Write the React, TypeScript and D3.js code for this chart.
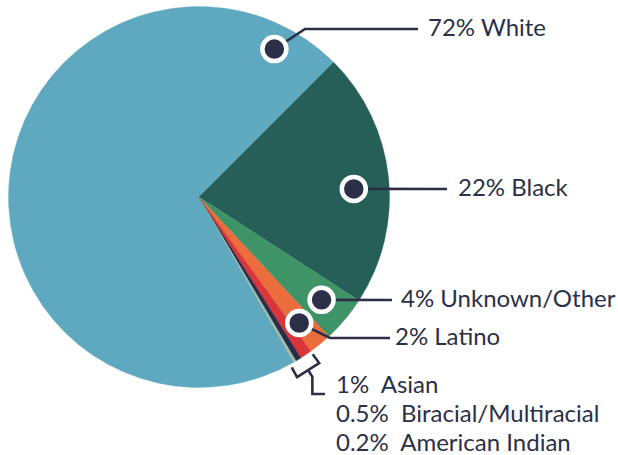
import * as d3 from "d3";

const categories = [
  "White",
  "Black",
  "Unknown/Other",
  "Latino",
  "Asian",
  "Biracial/Multiracial",
  "American Indian",
];
const percents = [72, 22, 4, 2, 1, 0.5, 0.2];
const sliceColors = [
  "#5ea9c0",
  "#265f57",
  "#3f9467",
  "#eb6d3c",
  "#d9353a",
  "#282e48",
  "#a3b9a6",
];

const W = 618;
const H = 455;
const cx = 199;
const cy = 197;
const R = 190.5;
const ink = "#2b3048";
const font = "Lato, 'Open Sans', sans-serif";
const fontSize = 24;

const deg = Math.PI / 180;

// leader line layout for the four labelled slices (marker angle, marker radius, bend, end, text x)
const callouts = [
  { angle: 27, r: 166, bend: [305, 29], end: [418, 29], tx: 428 },
  { angle: 87, r: 155, bend: null, end: [447, 189], tx: 458 },
  { angle: 130, r: 160, bend: null, end: [392, 300], tx: 401 },
  { angle: 141.5, r: 161, bend: [330, 338], end: [390, 338], tx: 395 },
];

const polar = (a: number, r: number): [number, number] => [
  cx + r * Math.sin(a),
  cy - r * Math.cos(a),
];

export default function App() {
  const total = d3.sum(percents);
  const whiteSpan = (percents[0] / total) * 2 * Math.PI;
  const start = Math.PI / 4 - whiteSpan;

  const arcs = d3
    .pie<number>()
    .sort(null)
    .value((d) => d)
    .startAngle(start)
    .endAngle(start + 2 * Math.PI)(percents);

  const arc = d3.arc<d3.PieArcDatum<number>>().innerRadius(0).outerRadius(R);

  // bracket over the three smallest slices
  const a1 = arcs[4].startAngle;
  const a2 = arcs[6].endAngle + 1.3 * deg;
  const t1 = polar(a1, 194);
  const b1 = polar(a1, 205);
  const t2 = polar(a2, 194);
  const b2 = polar(a2, 205);
  const mid: [number, number] = [(b1[0] + b2[0]) / 2, (b1[1] + b2[1]) / 2];
  const am = (a1 + a2) / 2;
  const s1: [number, number] = [mid[0] + 8 * Math.sin(am), mid[1] - 8 * Math.cos(am)];
  const stemY = 394;
  const bracketPath = d3.path();
  bracketPath.moveTo(t1[0], t1[1]);
  bracketPath.lineTo(b1[0], b1[1]);
  bracketPath.lineTo(b2[0], b2[1]);
  bracketPath.lineTo(t2[0], t2[1]);
  bracketPath.moveTo(mid[0], mid[1]);
  bracketPath.lineTo(s1[0], s1[1]);
  bracketPath.lineTo(s1[0], stemY);
  bracketPath.lineTo(325, stemY);

  const smallRows = [4, 5, 6];
  const rowY = [392.7, 421.7, 451.2];

  return (
    <svg
      width={W}
      height={H}
      style={{ position: "absolute", left: 0, top: 0, background: "#fff" }}
    >
      <g transform={`translate(${cx},${cy})`}>
        {arcs.map((a, i) => (
          <path
            key={categories[i]}
            d={arc(a) ?? ""}
            fill={sliceColors[i]}
            stroke={sliceColors[i]}
            strokeWidth={0.4}
          />
        ))}
      </g>

      {callouts.map((c, i) => {
        const m = polar(c.angle * deg, c.r);
        const pts = [m, ...(c.bend ? [c.bend] : []), c.end] as [number, number][];
        const line = d3.line()(pts) ?? "";
        return (
          <g key={categories[i]}>
            <path d={line} fill="none" stroke={ink} strokeWidth={2.6} />
            <circle cx={m[0]} cy={m[1]} r={12} fill={ink} stroke="#fff" strokeWidth={4.5} />
            <text
              x={c.tx}
              y={c.end[1] + 6.5}
              fontFamily={font}
              fontSize={fontSize}
              fill={ink}
            >
              {`${percents[i]}% ${categories[i]}`}
            </text>
          </g>
        );
      })}

      <path d={bracketPath.toString()} fill="none" stroke={ink} strokeWidth={2.6} />

      {smallRows.map((idx, j) => (
        <text
          key={categories[idx]}
          x={336}
          y={rowY[j]}
          fontFamily={font}
          fontSize={fontSize}
          fill={ink}
          style={{ whiteSpace: "pre" }}
        >
          {`${percents[idx]}%  ${categories[idx]}`}
        </text>
      ))}
    </svg>
  );
}
